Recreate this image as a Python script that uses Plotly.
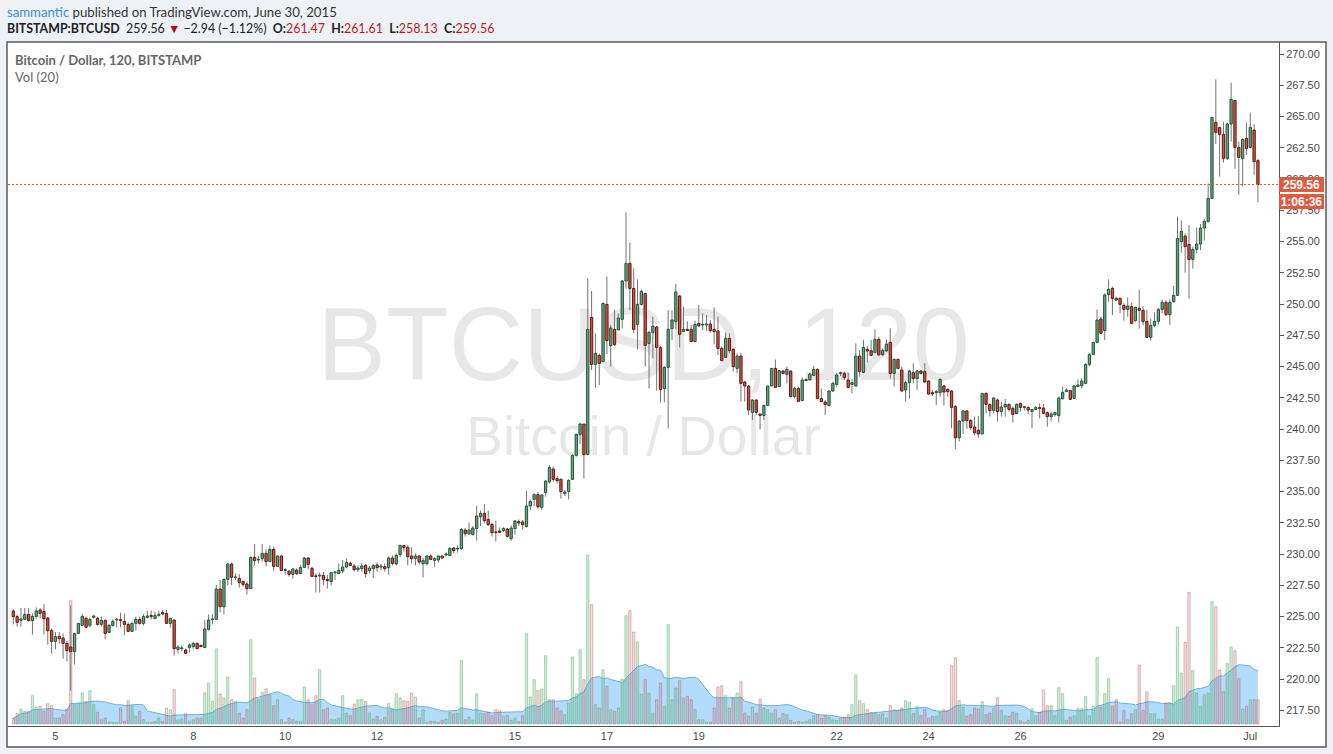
import pandas as pd
import plotly.graph_objects as go

# ---------------- data (2-hour bars, BITSTAMP BTCUSD) ----------------
START = "2015-06-04 02:00"

opens = [
    225.44, 224.99, 224.69, 224.77, 225.17, 224.67, 225.01, 225.52, 225.41, 224.88,
    223.89, 223.01, 223.41, 223.28, 222.85, 222.56, 222.19, 223.65, 224.29, 224.85,
    224.29, 224.93, 224.85, 224.37, 224.69, 223.73, 224.29, 224.72, 224.75, 224.61,
    224.37, 223.81, 224.45, 224.77, 224.45, 224.93, 225.09, 224.83, 225.09, 225.33,
    225.25, 224.45, 224.72, 222.37, 222.43, 222.32, 222.51, 222.59, 222.85, 222.69,
    222.51, 223.97, 224.75, 224.77, 227.20, 225.79, 227.97, 229.20, 228.11, 228.05,
    227.79, 227.60, 227.23, 229.73, 229.52, 229.63, 230.05, 229.39, 230.37, 229.01,
    229.84, 228.69, 228.64, 228.37, 228.72, 228.43, 228.93, 229.68, 228.85, 228.24,
    228.24, 228.29, 227.97, 227.79, 228.51, 228.45, 228.64, 228.96, 229.25, 229.04,
    228.75, 228.83, 229.09, 228.67, 228.83, 229.12, 228.96, 228.99, 228.91, 229.68,
    229.20, 229.95, 230.67, 230.53, 229.84, 229.63, 229.84, 229.23, 229.23, 229.84,
    229.49, 229.52, 229.84, 229.92, 229.87, 230.48, 230.40, 230.43, 231.92, 231.60,
    231.55, 232.03, 232.99, 233.25, 232.77, 232.37, 231.76, 231.84, 231.87, 232.00,
    231.23, 232.03, 232.59, 232.56, 232.19, 233.84, 234.37, 234.75, 233.73, 234.93,
    235.76, 236.80, 236.03, 235.97, 234.83, 234.99, 235.97, 237.89, 239.57, 240.40,
    237.95, 248.93, 245.17, 245.89, 245.39, 249.97, 246.67, 247.97, 247.92, 248.77,
    251.84, 253.25, 251.25, 248.37, 249.97, 250.85, 246.85, 247.73, 248.16, 246.51,
    243.23, 244.93, 248.03, 248.61, 250.64, 247.79, 247.97, 247.97, 246.99, 248.45,
    248.32, 248.32, 248.40, 247.97, 247.84, 246.45, 245.73, 247.25, 246.37, 244.85,
    245.84, 243.76, 243.44, 241.33, 242.32, 241.20, 241.09, 241.89, 243.44, 244.85,
    243.39, 244.64, 244.37, 244.64, 242.59, 243.25, 242.27, 243.87, 243.92, 244.29,
    244.77, 242.43, 242.16, 241.89, 243.04, 243.57, 244.45, 244.45, 243.92, 243.57,
    243.44, 245.84, 244.53, 246.37, 246.27, 246.11, 247.17, 245.95, 246.24, 246.93,
    244.45, 245.57, 244.72, 243.12, 243.71, 244.51, 244.03, 244.64, 244.59, 243.84,
    242.91, 242.91, 242.91, 243.44, 243.17, 243.04, 241.79, 239.30, 240.64, 241.44,
    240.69, 240.16, 239.90, 239.60, 242.85, 241.97, 241.47, 242.32, 241.39, 241.76,
    241.97, 241.65, 241.25, 242.05, 241.73, 241.73, 241.41, 241.57, 241.71, 241.68,
    241.31, 240.99, 241.15, 241.07, 242.43, 242.99, 243.07, 242.45, 243.41, 243.47,
    243.65, 245.17, 245.97, 246.93, 248.80, 247.87, 250.75, 251.25, 250.45, 250.45,
    249.89, 249.57, 249.79, 248.67, 249.65, 249.49, 248.61, 247.33, 248.29, 248.61,
    249.57, 250.13, 249.15, 250.19, 250.69, 254.99, 255.44, 254.77, 253.57, 254.37,
    254.80, 256.08, 256.61, 258.45, 264.53, 264.11, 263.57, 261.65, 264.40, 266.29,
    262.53, 261.65, 263.25, 262.53, 263.92, 261.47,
]

highs = [
    225.60, 225.15, 225.68, 225.68, 225.68, 225.25, 225.73, 225.68, 226.00, 224.96,
    224.03, 223.76, 223.76, 223.65, 223.04, 225.89, 223.65, 224.45, 225.20, 224.99,
    224.93, 225.15, 224.99, 224.99, 224.77, 224.40, 224.77, 224.88, 225.31, 225.25,
    224.53, 224.56, 224.99, 224.99, 225.17, 225.47, 225.47, 225.36, 225.47, 225.52,
    225.52, 224.91, 224.72, 222.67, 222.67, 222.43, 222.85, 222.99, 222.91, 222.75,
    224.72, 225.17, 225.20, 227.52, 227.92, 228.03, 229.31, 229.31, 228.45, 228.40,
    227.87, 227.79, 229.79, 230.80, 229.84, 230.80, 230.37, 230.69, 230.59, 229.89,
    229.95, 228.88, 228.67, 228.85, 228.85, 229.15, 229.76, 229.76, 228.99, 228.45,
    228.51, 228.56, 228.32, 228.56, 228.59, 229.25, 229.52, 229.63, 229.39, 229.20,
    229.09, 229.31, 229.20, 229.04, 229.20, 229.33, 229.20, 229.25, 229.81, 229.89,
    230.05, 230.69, 230.69, 230.69, 230.53, 230.05, 229.92, 229.68, 229.89, 229.95,
    229.73, 229.89, 229.89, 230.13, 230.53, 230.53, 230.69, 232.08, 232.08, 232.51,
    232.24, 233.84, 233.47, 234.00, 233.47, 232.51, 232.67, 232.13, 232.13, 232.08,
    232.29, 232.72, 232.77, 232.72, 235.07, 234.37, 234.85, 234.96, 234.75, 235.89,
    237.12, 236.99, 236.24, 236.05, 235.12, 235.97, 237.95, 239.65, 240.51, 240.40,
    252.05, 251.04, 247.65, 246.05, 250.13, 252.21, 248.32, 249.57, 249.25, 251.92,
    257.33, 254.93, 252.85, 251.97, 251.17, 250.85, 247.87, 248.99, 248.24, 246.64,
    245.04, 249.52, 249.47, 251.60, 250.72, 249.79, 248.61, 248.32, 248.67, 249.92,
    249.25, 249.12, 248.72, 249.73, 248.99, 246.59, 247.71, 247.65, 246.45, 246.05,
    246.11, 243.87, 243.49, 242.37, 242.37, 241.20, 241.95, 243.44, 244.85, 245.57,
    244.72, 244.72, 244.99, 244.64, 243.39, 243.39, 244.13, 244.03, 244.51, 245.04,
    244.85, 243.25, 242.32, 243.12, 243.79, 244.45, 244.59, 244.59, 244.51, 243.97,
    246.85, 246.32, 247.12, 246.64, 247.12, 247.97, 247.39, 246.45, 247.17, 248.05,
    245.65, 245.65, 244.99, 243.87, 244.72, 245.25, 244.72, 244.72, 245.25, 243.92,
    243.12, 243.12, 244.03, 243.52, 243.25, 243.12, 241.92, 240.72, 241.52, 241.52,
    240.77, 240.99, 241.04, 242.85, 242.91, 242.05, 242.56, 242.45, 242.19, 242.40,
    242.05, 241.79, 242.05, 242.11, 241.84, 241.79, 241.57, 241.84, 242.05, 242.00,
    241.39, 241.39, 241.39, 242.59, 243.39, 243.25, 243.12, 243.52, 243.97, 244.05,
    245.25, 246.05, 246.99, 249.57, 248.99, 250.85, 251.97, 251.39, 250.59, 250.53,
    250.05, 250.53, 250.11, 249.79, 251.12, 249.84, 249.52, 248.83, 249.33, 249.68,
    250.37, 250.32, 250.37, 251.44, 256.99, 256.67, 255.65, 256.32, 254.59, 256.13,
    256.40, 256.83, 259.65, 264.93, 267.97, 264.19, 264.59, 264.51, 267.71, 266.29,
    262.99, 263.25, 264.51, 265.31, 264.40, 261.61,
]

lows = [
    224.37, 224.19, 224.19, 224.72, 224.59, 223.55, 224.83, 224.85, 223.55, 222.75,
    222.05, 222.37, 222.83, 221.63, 221.41, 219.07, 221.15, 223.65, 224.29, 224.13,
    224.13, 224.83, 224.24, 224.19, 223.17, 223.73, 224.19, 224.13, 224.13, 223.49,
    223.81, 223.81, 223.87, 224.35, 224.29, 224.83, 224.77, 224.83, 224.99, 225.09,
    224.45, 224.11, 221.87, 222.05, 222.19, 222.05, 222.11, 222.43, 222.43, 222.59,
    222.51, 223.87, 224.37, 224.77, 225.33, 225.17, 227.49, 227.52, 227.92, 227.31,
    227.39, 226.75, 227.23, 229.07, 229.25, 229.39, 229.01, 229.39, 228.67, 228.99,
    228.64, 228.32, 228.19, 228.03, 228.32, 228.40, 228.91, 228.77, 228.19, 226.91,
    226.91, 227.49, 227.23, 227.49, 227.92, 228.40, 228.45, 228.85, 229.04, 228.59,
    228.56, 228.59, 228.11, 228.45, 228.08, 228.59, 228.72, 228.59, 228.35, 229.09,
    229.09, 229.73, 230.19, 229.09, 229.25, 229.09, 229.17, 228.13, 229.07, 229.52,
    228.99, 229.31, 229.63, 229.79, 229.84, 230.05, 230.11, 230.32, 231.39, 231.55,
    231.49, 231.07, 232.24, 232.45, 232.24, 231.39, 231.00, 231.65, 231.76, 231.33,
    231.07, 231.55, 232.24, 231.97, 232.13, 233.52, 233.84, 233.63, 233.52, 234.59,
    235.65, 235.79, 235.65, 234.43, 234.64, 234.37, 235.97, 237.79, 238.80, 236.03,
    237.95, 244.72, 243.31, 243.52, 245.39, 246.00, 244.99, 246.64, 247.92, 248.05,
    251.23, 249.52, 247.65, 246.37, 249.87, 244.99, 243.25, 245.65, 243.07, 242.13,
    242.13, 240.03, 247.12, 247.97, 246.51, 247.79, 247.87, 246.99, 246.99, 248.13,
    247.92, 247.87, 247.71, 246.77, 245.92, 245.47, 245.73, 246.05, 244.59, 244.45,
    242.19, 242.19, 241.12, 240.72, 241.12, 239.97, 240.72, 241.84, 243.44, 243.28,
    243.39, 244.37, 243.65, 242.51, 242.45, 242.21, 242.27, 243.87, 243.92, 244.29,
    242.43, 242.19, 241.12, 241.79, 242.99, 243.39, 244.24, 243.92, 243.33, 242.85,
    243.39, 244.19, 244.45, 245.31, 245.84, 246.05, 245.92, 245.84, 246.19, 244.05,
    243.39, 244.77, 242.99, 242.19, 242.45, 243.65, 243.12, 244.37, 243.65, 242.72,
    242.64, 241.92, 242.59, 241.87, 242.59, 240.05, 238.40, 239.00, 239.60, 240.00,
    239.90, 239.50, 239.30, 239.60, 241.25, 240.99, 241.25, 240.59, 240.99, 240.99,
    241.39, 240.51, 241.20, 241.39, 241.47, 241.20, 240.05, 241.52, 240.85, 241.20,
    240.19, 240.59, 240.99, 240.51, 242.37, 242.99, 242.32, 242.43, 243.39, 243.25,
    243.65, 245.04, 245.92, 246.85, 247.60, 247.12, 250.19, 249.12, 250.27, 249.25,
    248.67, 248.99, 248.40, 248.59, 248.03, 248.29, 247.33, 247.07, 248.13, 248.35,
    249.25, 249.04, 248.32, 250.11, 250.69, 254.11, 252.51, 250.43, 252.83, 254.05,
    254.32, 255.07, 256.51, 258.45, 262.80, 260.19, 261.31, 261.52, 262.99, 260.83,
    258.75, 259.39, 261.92, 262.45, 260.32, 258.13,
]

closes = [
    224.99, 224.53, 224.80, 225.17, 224.67, 225.01, 225.44, 225.25, 224.83, 223.87,
    223.01, 223.39, 223.23, 222.85, 222.27, 222.19, 223.65, 224.45, 225.01, 224.13,
    224.77, 225.04, 224.37, 224.69, 223.65, 224.29, 224.61, 224.77, 224.67, 224.37,
    223.81, 224.45, 224.77, 224.45, 224.99, 225.04, 224.99, 225.09, 225.17, 225.20,
    224.45, 224.85, 222.43, 222.56, 222.48, 222.05, 222.72, 222.85, 222.43, 222.59,
    224.00, 224.72, 224.80, 227.20, 225.79, 227.97, 229.20, 228.13, 228.16, 227.71,
    227.57, 227.23, 229.73, 229.47, 229.57, 230.05, 229.39, 230.37, 229.01, 229.84,
    228.69, 228.75, 228.37, 228.80, 228.43, 228.93, 229.68, 229.17, 228.21, 228.19,
    228.29, 227.97, 227.87, 228.51, 228.53, 228.69, 228.96, 229.33, 229.09, 228.75,
    228.88, 229.04, 228.43, 228.88, 229.07, 228.91, 228.99, 228.83, 229.68, 229.25,
    229.89, 230.69, 230.51, 229.79, 229.63, 229.84, 229.36, 229.49, 229.84, 229.57,
    229.63, 229.84, 229.68, 230.00, 230.45, 230.27, 230.45, 231.97, 231.63, 231.92,
    232.08, 233.04, 233.25, 232.67, 232.35, 231.71, 231.71, 231.73, 232.05, 231.41,
    232.08, 232.64, 232.48, 232.35, 233.84, 234.21, 234.75, 233.79, 234.72, 235.84,
    236.91, 235.97, 235.87, 234.99, 234.96, 235.89, 237.89, 239.57, 240.40, 237.95,
    247.97, 245.17, 246.05, 245.25, 250.05, 247.07, 248.08, 246.75, 248.88, 251.84,
    253.25, 251.25, 247.97, 249.97, 251.01, 246.69, 247.73, 248.24, 246.51, 243.17,
    244.93, 247.97, 248.72, 250.96, 247.57, 247.97, 247.87, 246.99, 248.37, 248.27,
    248.35, 248.40, 247.87, 247.79, 246.45, 245.47, 247.25, 246.27, 244.99, 245.84,
    243.65, 243.44, 241.52, 242.32, 241.33, 241.09, 241.89, 243.44, 244.85, 243.33,
    244.67, 244.45, 244.77, 242.59, 243.25, 242.21, 243.92, 243.97, 244.40, 244.77,
    242.43, 242.19, 241.95, 243.04, 243.65, 244.32, 244.51, 244.13, 243.33, 243.71,
    245.84, 244.59, 246.53, 246.24, 245.89, 247.17, 245.92, 246.29, 246.80, 244.45,
    245.57, 244.85, 243.04, 243.71, 244.64, 244.03, 244.64, 244.45, 243.76, 242.80,
    242.80, 242.99, 243.97, 242.96, 242.99, 241.73, 239.30, 240.64, 241.44, 240.67,
    240.11, 239.70, 239.60, 242.85, 241.97, 241.47, 242.48, 241.39, 241.76, 241.97,
    241.57, 241.17, 241.97, 241.73, 241.79, 241.52, 241.57, 241.71, 241.65, 241.25,
    240.99, 241.20, 241.31, 242.48, 242.93, 243.12, 242.37, 243.44, 243.52, 243.84,
    245.17, 245.97, 246.93, 248.72, 247.65, 250.72, 251.17, 250.45, 250.32, 249.97,
    249.57, 249.84, 248.45, 249.73, 249.49, 248.59, 247.33, 248.29, 248.61, 249.57,
    250.13, 249.15, 250.13, 250.69, 255.25, 255.81, 254.59, 253.57, 254.37, 254.80,
    256.08, 256.61, 258.45, 264.93, 263.73, 263.57, 261.65, 264.40, 266.37, 262.53,
    261.73, 263.17, 262.45, 264.13, 261.39, 259.56,
]

volumes = [
    57, 103, 150, 127, 127, 283, 170, 177, 127, 203,
    183, 60, 60, 93, 150, 1233, 193, 210, 310, 227,
    333, 193, 117, 43, 60, 17, 17, 17, 160, 27,
    233, 177, 77, 127, 43, 17, 17, 27, 60, 27,
    160, 143, 343, 43, 50, 103, 27, 43, 60, 60,
    310, 410, 227, 750, 300, 260, 470, 243, 227, 110,
    60, 143, 843, 460, 243, 317, 350, 293, 183, 243,
    43, 17, 60, 43, 27, 27, 370, 243, 193, 283,
    543, 143, 160, 43, 43, 60, 283, 110, 83, 200,
    243, 243, 227, 110, 50, 77, 43, 67, 203, 143,
    303, 260, 233, 227, 310, 270, 60, 143, 17, 27,
    27, 17, 37, 50, 117, 100, 110, 633, 43, 70,
    37, 300, 110, 103, 117, 83, 143, 133, 77, 83,
    37, 60, 27, 83, 903, 270, 443, 333, 350, 683,
    243, 243, 160, 133, 93, 210, 670, 303, 743, 443,
    1690, 1193, 193, 160, 543, 377, 143, 127, 160, 450,
    1083, 1133, 920, 820, 300, 443, 310, 110, 243, 410,
    177, 993, 243, 360, 433, 260, 277, 243, 143, 43,
    43, 20, 20, 160, 370, 383, 283, 160, 260, 310,
    423, 110, 77, 170, 110, 250, 160, 143, 110, 143,
    60, 103, 93, 37, 17, 27, 20, 27, 43, 83,
    93, 60, 83, 70, 43, 37, 60, 70, 93, 193,
    490, 233, 203, 143, 117, 110, 93, 103, 60, 183,
    143, 137, 160, 233, 220, 103, 177, 83, 143, 60,
    77, 77, 117, 143, 137, 583, 663, 233, 170, 77,
    93, 160, 150, 223, 93, 110, 160, 263, 137, 83,
    77, 117, 110, 33, 20, 37, 153, 83, 117, 337,
    183, 183, 83, 363, 303, 37, 70, 83, 153, 153,
    273, 83, 177, 663, 170, 303, 453, 177, 243, 20,
    137, 43, 103, 143, 590, 137, 323, 103, 103, 50,
    50, 210, 210, 383, 970, 510, 817, 1317, 533, 310,
    177, 293, 310, 1223, 1173, 540, 323, 603, 770, 733,
    453, 150, 177, 243, 243, 243,
]

x_tick_dates = ["2015-06-05", "2015-06-08", "2015-06-10", "2015-06-12", "2015-06-15",
                "2015-06-17", "2015-06-19", "2015-06-22", "2015-06-24", "2015-06-26",
                "2015-06-29", "2015-07-01"]
x_tick_labels = ["5", "8", "10", "12", "15", "17", "19", "22", "24", "26", "29", "Jul"]
price_ticks = [217.5, 220.0, 222.5, 225.0, 227.5, 230.0, 232.5, 235.0, 237.5, 240.0, 242.5,
               245.0, 247.5, 250.0, 252.5, 255.0, 257.5, 260.0, 262.5, 265.0, 267.5, 270.0]
last_price = 259.56
countdown = "1:06:36"
vol_ma_length = 20

# ---------------- styling ----------------
UP_FILL, UP_LINE = "#6ba583", "#225437"
DN_FILL, DN_LINE = "#d75442", "#5b1a13"
WICK = "#737375"
VOL_UP, VOL_UP_LINE = "rgba(100,180,120,0.27)", "rgba(90,170,110,0.45)"
VOL_DN, VOL_DN_LINE = "rgba(200,110,110,0.22)", "rgba(180,95,95,0.42)"
MA_FILL, MA_LINE = "#b3dbfb", "#62b2ef"
PRICE_RED = "#df5a3f"
AX = "#555555"
HDR_FONT = "Lato, Open Sans, sans-serif"
AX_FONT = "Liberation Sans, Arial, sans-serif"

W, H = 1333, 754
PL, PR, PT, PB = 8, 1279, 42, 726          # plot area in pixels
BAR_MS = 2 * 3600 * 1000

times = pd.date_range(START, periods=len(opens), freq="2h")
t0 = times[0]
x_range = [t0 - pd.Timedelta(milliseconds=1.384 * BAR_MS), t0 + pd.Timedelta(milliseconds=330.5 * BAR_MS)]
price_range = [216.24, 270.96]
vol_range = [-20, 6820]


def px_x(px):
    return (px - PL) / (PR - PL)


def px_y(py):
    return (PB - py) / (PB - PT)


up = [c >= o for o, c in zip(opens, closes)]
body_base = [min(o, c) for o, c in zip(opens, closes)]
body_h = [max(abs(c - o), 0.06) for o, c in zip(opens, closes)]

wx, wy = [], []
for t, o, h, l, c in zip(times, opens, highs, lows, closes):
    wx += [t, t, None]
    wy += [min(l, o, c), max(h, o, c), None]

vol_ma = pd.Series(volumes, dtype=float).rolling(vol_ma_length, min_periods=1).mean()

fig = go.Figure()

# watermark (behind everything)
mid_t = x_range[0] + (x_range[1] - x_range[0]) / 2
fig.add_trace(go.Scatter(
    x=[mid_t, mid_t], y=[246.0, 239.0], mode="text",
    text=["BTCUSD, 120", "Bitcoin / Dollar"],
    textfont=dict(family=AX_FONT, size=[103, 55], color="rgba(0,0,0,0.095)"),
    yaxis="y", hoverinfo="skip", showlegend=False))

# wicks
fig.add_trace(go.Scatter(x=wx, y=wy, mode="lines", line=dict(color=WICK, width=1),
                         yaxis="y", hoverinfo="skip", showlegend=False, connectgaps=False))

# volume moving average area
fig.add_trace(go.Scatter(x=times, y=vol_ma, mode="lines", fill="tozeroy",
                         fillcolor=MA_FILL, line=dict(color=MA_LINE, width=1),
                         yaxis="y2", hoverinfo="skip", showlegend=False))

# volume bars
fig.add_trace(go.Bar(
    x=times, y=volumes, width=0.6 * BAR_MS,
    marker=dict(color=[VOL_UP if u else VOL_DN for u in up],
                line=dict(color=[VOL_UP_LINE if u else VOL_DN_LINE for u in up], width=1)),
    yaxis="y3", hoverinfo="skip", showlegend=False))

# candle bodies
fig.add_trace(go.Bar(
    x=times, y=body_h, base=body_base, width=0.6 * BAR_MS,
    marker=dict(color=[UP_FILL if u else DN_FILL for u in up],
                line=dict(color=[UP_LINE if u else DN_LINE for u in up], width=1)),
    yaxis="y4", hoverinfo="skip", showlegend=False))

fig.update_layout(
    width=W, height=H,
    margin=dict(l=PL, r=W - PR, t=PT, b=H - PB, pad=0),
    paper_bgcolor="#eef2f6", plot_bgcolor="white",
    barmode="overlay", showlegend=False,
    xaxis=dict(type="date", range=x_range, showgrid=False, zeroline=False,
               showline=True, linecolor=AX, linewidth=1, ticks="",
               tickvals=x_tick_dates, ticktext=x_tick_labels,
               tickfont=dict(family=AX_FONT, size=11, color="#4a4a4a")),
    yaxis=dict(range=price_range, visible=False, fixedrange=True),
    yaxis2=dict(range=vol_range, visible=False, overlaying="y"),
    yaxis3=dict(range=vol_range, visible=False, overlaying="y"),
    yaxis4=dict(range=price_range, overlaying="y", side="right", showgrid=False,
                zeroline=False, showline=True, linecolor=AX, linewidth=1,
                ticks="outside", ticklen=4, tickcolor=AX,
                tickvals=price_ticks, ticktext=[f"{v:.2f}" for v in price_ticks],
                tickfont=dict(family=AX_FONT, size=11, color="#4a4a4a")),
)

fig.add_shape(type="rect", xref="paper", yref="paper",
              x0=px_x(7), x1=px_x(1326), y0=px_y(747), y1=px_y(42),
              line=dict(color="#5a5a5a", width=1.5), fillcolor="white", layer="below")
fig.add_shape(type="line", xref="paper", yref="y4", x0=0, x1=1, y0=last_price, y1=last_price,
              line=dict(color=PRICE_RED, width=1, dash="2px,2px"), layer="above")

ann = []
ann.append(dict(x=1, xref="paper", y=last_price, yref="y4", xanchor="left", yanchor="middle",
                text=f"<b>{last_price:.2f}</b>", showarrow=False, bgcolor=PRICE_RED,
                width=41, height=11, borderpad=1, borderwidth=1, bordercolor=PRICE_RED,
                font=dict(family=AX_FONT, size=12, color="white")))
ann.append(dict(x=1, xref="paper", y=last_price, yref="y4", xanchor="left", yanchor="middle",
                yshift=-17, text=f"<b>{countdown}</b>", showarrow=False, bgcolor=PRICE_RED,
                width=41, height=11, borderpad=1, borderwidth=1, bordercolor=PRICE_RED,
                font=dict(family=AX_FONT, size=12, color="white")))

NB = "\u00a0"
hdr1 = ("<span style='color:#3a8fd4'>sammantic</span>" + NB +
        "published on TradingView.com, June 30, 2015")
red = lambda s: f"<span style='color:#b71c1c'>{s}</span>"
hdr2 = ("<b>BITSTAMP:BTCUSD</b>" + NB * 2 + "259.56" + NB +
        "<span style='color:#a31410'>▼</span>" + NB + "−2.94 (−1.12%)" + NB * 2 +
        "<b>O:</b>" + red("261.47") + NB * 2 + "<b>H:</b>" + red("261.61") + NB * 2 +
        "<b>L:</b>" + red("258.13") + NB * 2 + "<b>C:</b>" + red("259.56"))
ann.append(dict(x=px_x(5), y=px_y(12), xref="paper", yref="paper", xanchor="left", yanchor="middle",
                text=hdr1, showarrow=False, font=dict(family=HDR_FONT, size=13.2, color="#333333")))
ann.append(dict(x=px_x(5), y=px_y(29), xref="paper", yref="paper", xanchor="left", yanchor="middle",
                text=hdr2, showarrow=False, font=dict(family=HDR_FONT, size=12.4, color="#222222")))
ann.append(dict(x=px_x(13), y=px_y(60), xref="paper", yref="paper", xanchor="left", yanchor="middle",
                text="<b>Bitcoin / Dollar, 120, BITSTAMP</b>", showarrow=False,
                font=dict(family=HDR_FONT, size=13, color="#666666")))
ann.append(dict(x=px_x(13), y=px_y(77), xref="paper", yref="paper", xanchor="left", yanchor="middle",
                text="Vol (20)", showarrow=False,
                font=dict(family=HDR_FONT, size=13, color="#666666")))
fig.update_layout(annotations=ann)

fig.write_html("out.html", config={"displayModeBar": False},
               post_script="document.body.style.margin='0';document.body.style.overflow='hidden';")
